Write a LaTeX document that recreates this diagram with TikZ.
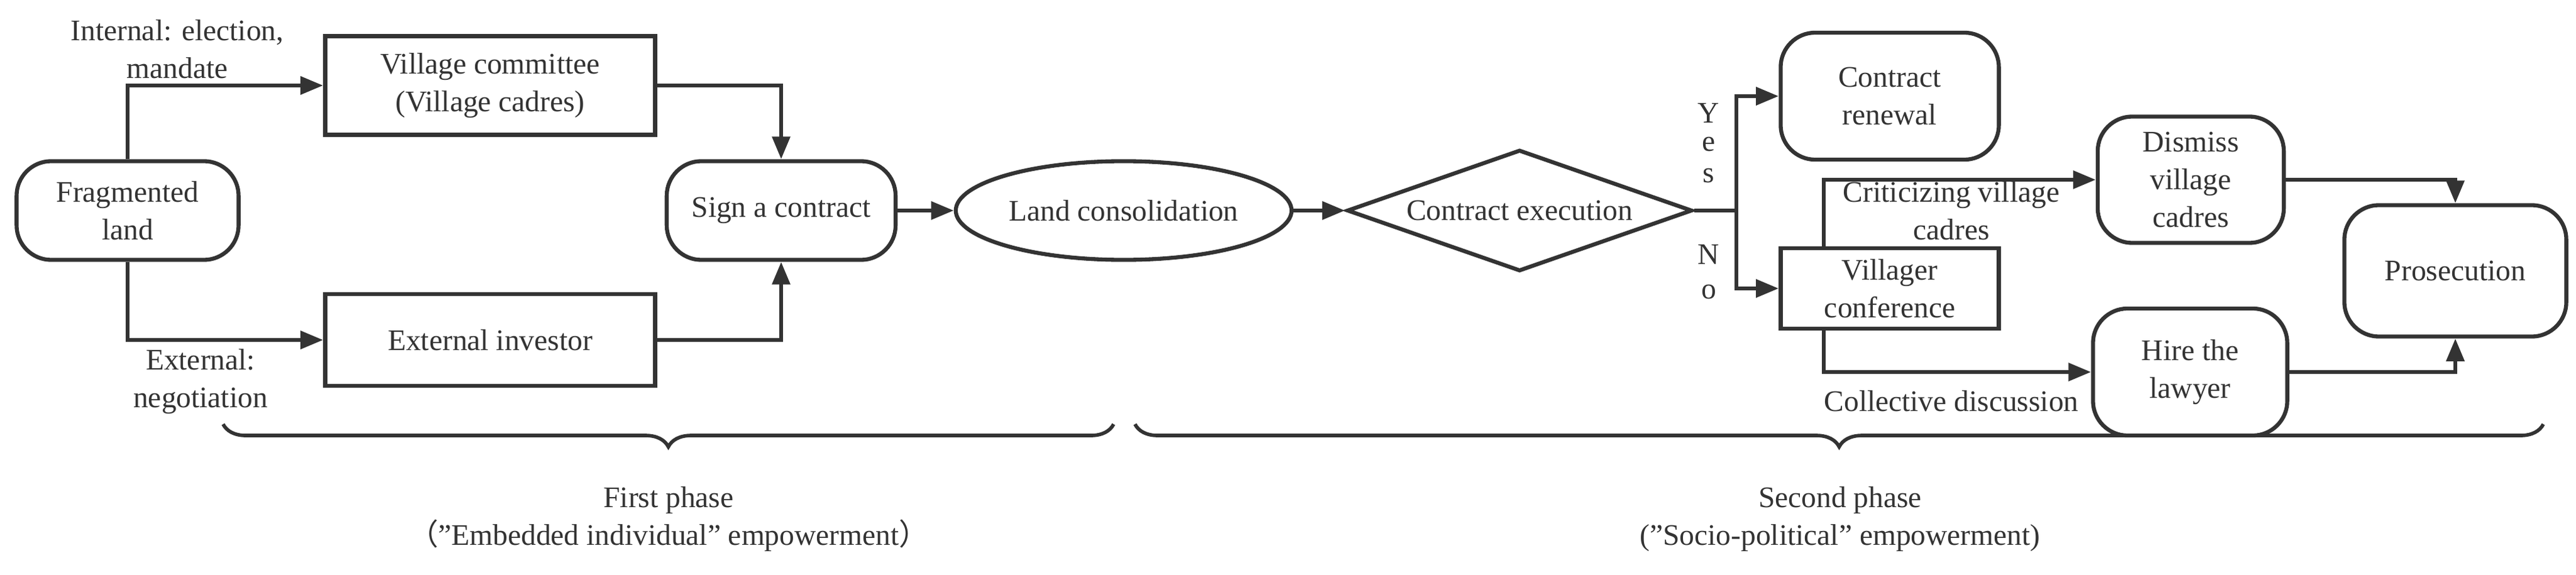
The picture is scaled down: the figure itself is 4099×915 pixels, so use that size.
\documentclass[tikz,border=0pt]{standalone}
\usepackage{fontspec}
\setmainfont{Liberation Serif}
\newfontfamily\cjk{Noto Sans CJK SC}
\usetikzlibrary{arrows.meta,shapes.geometric,decorations.pathreplacing}
\definecolor{ink}{HTML}{333333}
\newcommand{\dq}{\symbol{34}}
\begin{document}
\begin{tikzpicture}[x=0.01cm,y=-0.01cm,
  every node/.style={font=\fontsize{13.5}{17}\selectfont,text=ink,align=center},
  box/.style={draw=ink,line width=1.8pt,inner sep=0pt},
  rbox/.style={box,rounded corners=0.55cm},
  ln/.style={draw=ink,line width=1.8pt},
  arr/.style={ln,-{Triangle[length=0.36cm,width=0.28cm]}},
  lbl/.style={font=\fontsize{13.5}{17}\selectfont}]
\useasboundingbox (0,0) rectangle (4099,915);
\node[rbox,minimum width=3.53cm,minimum height=1.57cm] (frag) at (203,335) {Fragmented\\land};
\node[box,minimum width=5.25cm,minimum height=1.57cm] (vc) at (780,136) {Village committee\\(Village cadres)};
\node[box,minimum width=5.25cm,minimum height=1.46cm] (ei) at (780,541) {External investor};
\node[rbox,minimum width=3.64cm,minimum height=1.57cm] (sign) at (1243,335) {Sign a contract};
\node[box,ellipse,minimum width=5.34cm,minimum height=1.57cm] (lc) at (1788,335) {Land consolidation};
\node[box,diamond,aspect=2.85,minimum width=5.49cm,minimum height=1.93cm] (ce) at (2418,335) {Contract execution};
\node[rbox,minimum width=3.47cm,minimum height=2.02cm] (cr) at (3007,153) {Contract\\renewal};
\node[box,minimum width=3.47cm,minimum height=1.28cm] (vconf) at (3007,459) {Villager\\conference};
\node[rbox,minimum width=2.96cm,minimum height=2.01cm] (dis) at (3486,286) {Dismiss\\village\\cadres};
\node[rbox,minimum width=3.09cm,minimum height=2.02cm] (hire) at (3485,592) {Hire the\\lawyer};
\node[rbox,minimum width=3.53cm,minimum height=2.09cm] (pros) at (3907,431) {Prosecution};

\draw[arr] (frag.north) |- (vc.west);
\draw[arr] (frag.south) |- (ei.west);
\draw[arr] (vc.east) -| (sign.north);
\draw[arr] (ei.east) -| (sign.south);
\draw[arr] (sign) -- (lc);
\draw[arr] (lc) -- (ce);
\coordinate (yj) at (2763,335);
\draw[ln] (ce.east) -- (yj);
\draw[arr] (yj) |- (cr.west);
\draw[arr] (yj) |- (vconf.west);
\draw[arr] (vconf.north -| 2902,0) |- (dis.west);
\draw[arr] (vconf.south -| 2902,0) |- (hire.west);
\draw[arr] (dis.east) -| (pros.north);
\draw[arr] (hire.east) -| (pros.south);

\node[lbl] (t1) at (282,78) {Internal: election,\\mandate};
\node[lbl] (t2) at (319,607) {External:\\negotiation};
\node[lbl] (t3) at (3105,335) {Criticizing village\\cadres};
\node[lbl] (t4) at (3105,638) {Collective discussion};
\node[lbl] (y1) at (2719,180) {Y};
\node[lbl] (y2) at (2719,230) {e};
\node[lbl] (y3) at (2719,280) {s};
\node[lbl] (n1) at (2719,405) {N};
\node[lbl] (n2) at (2719,465) {o};

\draw[ln,line width=1.6pt,decorate,decoration={brace,mirror,amplitude=0.36cm,aspect=0.5}] (355,675) -- (1772,675);
\draw[ln,line width=1.6pt,decorate,decoration={brace,mirror,amplitude=0.36cm,aspect=0.5}] (1806,675) -- (4047,675);
\node[lbl] (p1) at (1064,826) {First phase\\{\cjk （}\dq Embedded individual\dq{} empowerment{\cjk ）}};
\node[lbl] (p2) at (2928,826) {Second phase\\(\dq Socio-political\dq{} empowerment)};
\end{tikzpicture}
\end{document}
